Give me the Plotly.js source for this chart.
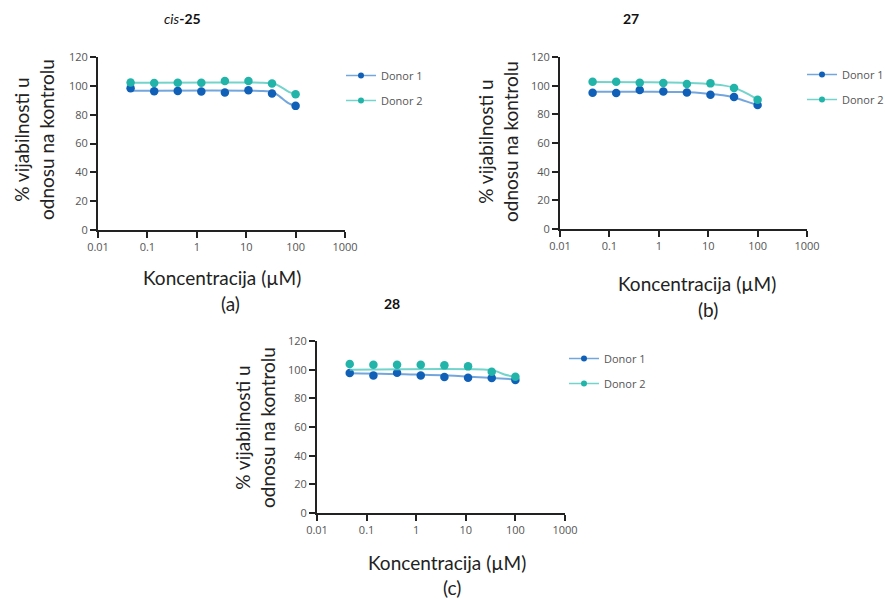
<!DOCTYPE html>
<html><head><meta charset="utf-8">
<script src="https://cdn.plot.ly/plotly-3.0.1.min.js"></script>
<style>html,body{margin:0;padding:0;background:#fff}#chart{width:885px;height:599px}</style>
</head><body><div id="chart"></div>
<script>
// concentrations (µM), 3-fold dilution series
const conc = [0.0457, 0.1372, 0.4115, 1.235, 3.704, 11.11, 33.33, 100];
const xTicks = [0.01, 0.1, 1, 10, 100, 1000];
const xTickText = ["0.01", "0.1", "1", "10", "100", "1000"];
const seriesNames = ["Donor 1", "Donor 2"];

// panel (a) cis-25
const a_d1 = [98.4, 96.3, 96.5, 96.1, 95.4, 97.0, 94.7, 86.1];
const a_d2 = [102.3, 101.9, 102.1, 102.1, 103.3, 103.3, 101.6, 94.2];
const a_fitX = [0.0457, 20, 30, 40, 50, 60, 70, 80, 100];
const a_fit1 = [96.6, 96.5, 96.0, 94.5, 92.0, 89.8, 88.2, 87.2, 86.1];
const a_fit2 = [102.2, 102.2, 101.9, 101.0, 99.2, 97.6, 96.2, 95.3, 94.2];

// panel (b) 27
const b_d1 = [95.1, 94.9, 97.0, 96.0, 95.3, 93.7, 92.1, 86.5];
const b_d2 = [102.8, 102.8, 102.1, 101.9, 101.2, 101.6, 98.4, 90.2];
const b_fitX = [0.0457, 0.5, 3, 10, 20, 33.3, 50, 70, 100];
const b_fit1 = [95.8, 95.8, 95.5, 94.4, 93.3, 91.8, 89.8, 88.2, 86.5];
const b_fit2 = [102.6, 102.4, 102.0, 101.2, 100.2, 98.6, 96.0, 93.4, 90.4];

// panel (c) 28
const c_d1 = [97.7, 96.0, 97.9, 96.0, 94.9, 94.4, 94.2, 92.8];
const c_d2 = [104.0, 103.5, 103.5, 103.5, 103.0, 102.3, 98.6, 95.1];
const c_fitX1 = [0.0457, 1, 10, 100];
const c_fit1 = [97.5, 96.6, 95.3, 93.2];
const c_fitX2 = [0.0457, 30, 40, 60, 100];
const c_fit2 = [100.0, 99.9, 99.0, 96.6, 95.0];

const blue = '#1060b8', teal = '#22b4a8';
const blueLine = 'rgba(90,150,215,0.85)', tealLine = 'rgba(90,205,195,0.85)';

const panels = [
  {xa:'x', ya:'y', lg:'legend', d1:a_d1, d2:a_d2, fx1:a_fitX, f1:a_fit1, fx2:a_fitX, f2:a_fit2},
  {xa:'x2', ya:'y2', lg:'legend2', d1:b_d1, d2:b_d2, fx1:b_fitX, f1:b_fit1, fx2:b_fitX, f2:b_fit2},
  {xa:'x3', ya:'y3', lg:'legend3', d1:c_d1, d2:c_d2, fx1:c_fitX1, f1:c_fit1, fx2:c_fitX2, f2:c_fit2}
];

const traces = [];
panels.forEach((p, i) => {
  const sets = [
    {name: seriesNames[0], y: p.d1, fx: p.fx1, fy: p.f1, mc: blue, lc: blueLine},
    {name: seriesNames[1], y: p.d2, fx: p.fx2, fy: p.f2, mc: teal, lc: tealLine}
  ];
  sets.forEach((s, j) => {
    const grp = 'p' + i + 'd' + j;
    traces.push({x: s.fx, y: s.fy, xaxis: p.xa, yaxis: p.ya, mode: 'lines', line: {color: s.lc, width: 2, shape: 'spline'},
      showlegend: false, legendgroup: grp, hoverinfo: 'skip'});
    traces.push({x: conc, y: s.y, xaxis: p.xa, yaxis: p.ya, mode: 'markers', marker: {color: s.mc, size: 8.5},
      showlegend: false, legendgroup: grp, name: s.name});
    // legend entry
    traces.push({x: [null], y: [null], xaxis: p.xa, yaxis: p.ya, mode: 'lines+markers', name: s.name,
      marker: {color: s.mc, size: 6}, line: {color: s.lc, width: 1.5}, legend: p.lg, legendgroup: grp, showlegend: true});
  });
});

const W = 885, H = 599;
const px = v => v / W, py = v => 1 - v / H;

function xaxisDef(anchor, d) {
  return {type: 'log', range: [-2, 3], domain: d, anchor: anchor, tickmode: 'array', tickvals: xTicks, ticktext: xTickText,
    showline: true, linecolor: '#222', linewidth: 2, ticks: 'outside', ticklen: 6, tickwidth: 2, tickcolor: '#222',
    showgrid: false, zeroline: false, automargin: false, tickfont: {family: 'Open Sans', size: 11, color: '#555'}};
}
function yaxisDef(anchor, d) {
  return {range: [0, 120], domain: d, anchor: anchor, dtick: 20, tick0: 0,
    showline: true, linecolor: '#222', linewidth: 2, ticks: 'outside', ticklen: 6, tickwidth: 2, tickcolor: '#222',
    showgrid: false, zeroline: false, automargin: false, tickfont: {family: 'Open Sans', size: 11, color: '#555'}};
}

const tf = {family: 'Lato, Open Sans, sans-serif', size: 19, color: '#222'};
const legendDef = (x, y) => ({x: x, y: y, xref: 'container', yref: 'container', xanchor: 'left', yanchor: 'top',
  bgcolor: 'rgba(0,0,0,0)', borderwidth: 0,
  font: {family: 'Open Sans', size: 11, color: '#555'}, traceorder: 'grouped', tracegroupgap: 6, itemwidth: 30});

const ann = [];
function addText(text, x, y, font, angle) {
  ann.push({text: text, xref: 'paper', yref: 'paper', x: px(x), y: py(y), xanchor: 'center', yanchor: 'middle',
    showarrow: false, font: font, textangle: angle || 0});
}
const titleFont = {family: 'Lato, Open Sans, sans-serif', size: 14, color: '#111'};
addText('<i>cis</i><b>-25</b>', 182, 19, titleFont);
addText('<b>27</b>', 631, 19, titleFont);
addText('<b>28</b>', 392, 303, titleFont);
const yTitle = '% vijabilnosti u<br>odnosu na kontrolu';
addText(yTitle, 34, 140, tf, -90);
addText(yTitle, 498, 142, tf, -90);
addText(yTitle, 255, 428, tf, -90);
const xTitle = 'Koncentracija (µM)';
addText(xTitle, 222, 278, tf);
addText('(a)', 230, 303, tf);
addText(xTitle, 697, 283, tf);
addText('(b)', 708, 309, tf);
addText(xTitle, 447, 562, tf);
addText('(c)', 452, 587, tf);

const layout = {
  width: W, height: H, margin: {l: 0, r: 0, t: 0, b: 0, autoexpand: false}, paper_bgcolor: '#fff', plot_bgcolor: '#fff',
  xaxis: xaxisDef('y', [px(98), px(345)]),
  yaxis: yaxisDef('x', [py(230), py(57)]),
  xaxis2: xaxisDef('y2', [px(560), px(807)]),
  yaxis2: yaxisDef('x2', [py(229), py(57)]),
  xaxis3: xaxisDef('y3', [px(317), px(565)]),
  yaxis3: yaxisDef('x3', [py(513), py(341)]),
  legend: legendDef(px(341), py(61)),
  legend2: legendDef(px(802), py(60)),
  legend3: legendDef(px(564), py(344)),
  annotations: ann,
  showlegend: true
};

Plotly.newPlot('chart', traces, layout, {displayModeBar: false, staticPlot: false});
</script></body></html>
